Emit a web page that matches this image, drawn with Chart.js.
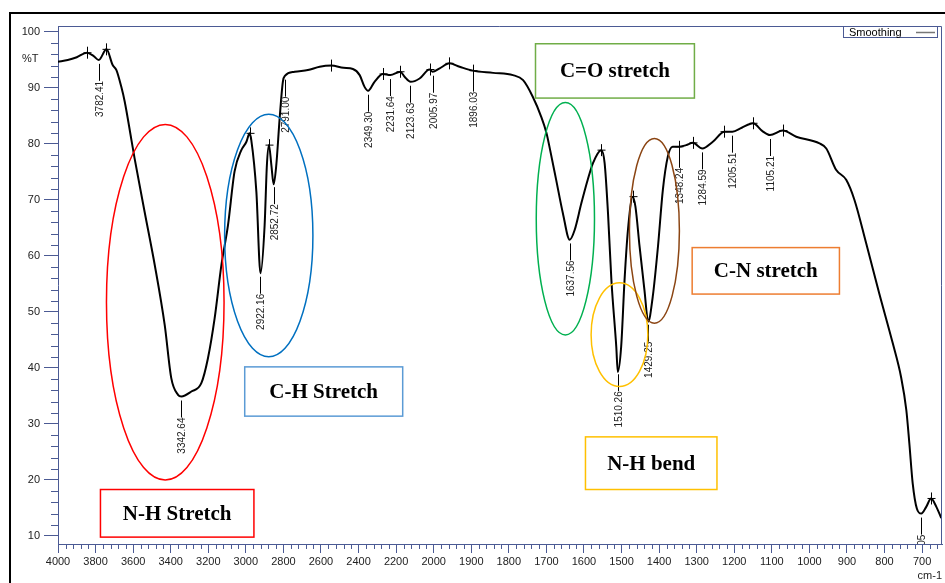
<!DOCTYPE html>
<html>
<head>
<meta charset="utf-8">
<script src="https://cdn.jsdelivr.net/npm/chart.js@4.4.1/dist/chart.umd.min.js"></script>
<style>
  html, body { margin: 0; padding: 0; background: #fff; }
  #wrap { width: 945px; height: 583px; }
</style>
</head>
<body>
<div id="wrap"><canvas id="ftir" width="945" height="583"></canvas></div>
<script>
// Spettro FTIR: numeri d'onda (cm-1) e trasmittanza (%T)
const WAVENUMBER = [4000,3948,3900,3846,3810,3783,3742,3709,3689,3663,
    3645,3609,3592,3539,3485,3432,3397,3361,3343,3290,
    3237,3202,3166,3130,3095,3060,3024,2997,2980,2971,
    2944,2922,2900,2888,2877,2864,2852,2838,2820,2803,
    2791,2740,2670,2607,2545,2480,2430,2394,2368,2349,
    2315,2270,2231,2178,2155,2123,2075,2022,2006,1984,
    1958,1931,1896,1842,1789,1762,1736,1714,1700,1690,
    1674,1656,1638,1625,1607,1590,1576,1554,1545,1536,
    1527,1514,1510,1501,1492,1483,1470,1463,1452,1439,
    1429,1417,1403,1390,1377,1364,1348,1328,1310,1285,
    1257,1226,1205,1180,1150,1125,1105,1071,1035,973,
    955,929,902,880,849,814,778,756,742,734,
    725,714,702,689,676,662,649];

const TRANSMITTANCE = [94.7,95.0,95.5,96.3,95.7,95.0,96.9,94.1,93.2,90.2,
    87.6,80.7,77.4,67.9,58.4,47.7,38.2,35.2,34.9,35.8,
    37.3,41.7,48.9,58.4,65.5,75.1,78.9,80.4,81.9,80.7,
    71.5,56.9,65.5,76.2,79.8,76.2,72.8,76.2,84.6,91.1,
    92.2,92.9,93.2,93.8,94.0,93.6,93.4,92.3,90.2,89.5,
    91.1,92.5,92.3,92.9,92.0,91.1,91.7,93.3,92.9,93.5,
    94.4,93.8,93.1,92.7,92.3,91.4,88.4,84.9,82.0,78.9,
    73.6,67.6,62.9,64.6,69.4,73.6,76.6,78.9,76.6,67.6,
    55.7,43.8,39.3,43.8,55.7,64.6,70.6,68.8,61.7,53.9,
    48.3,52.7,61.7,71.8,77.7,79.5,79.5,79.8,80.2,79.2,
    80.4,82.2,82.2,82.9,83.7,82.3,81.6,82.4,81.3,80.1,
    79.2,75.4,73.6,70.0,62.3,53.3,44.4,38.4,32.5,26.6,
    19.4,14.9,14.0,15.2,16.7,15.2,13.2];

// Picchi etichettati (minimi) e massimi marcati con una crocetta
const PEAK_LABELS = [3782.41, 3342.64, 2922.16, 2852.72, 2791.00, 2349.30, 2231.64, 2123.63,
    2005.97, 1896.03, 1637.56, 1510.26, 1429.25, 1348.24, 1284.59, 1205.51, 1105.21, 702.05];
const PEAK_MARKS = [3846, 3742, 2980, 2877, 2545, 2270, 2178, 2022, 1958, 1896,
    1554, 1470, 1348, 1310, 1226, 1150, 1071, 676];

// Tick degli assi
const X_TICKS = [4000,3800,3600,3400,3200,3000,2800,2600,2400,2200,2000,
    1900,1800,1700,1600,1500,1400,1300,1200,1100,1000,900,800,700];
const Y_TICKS = [10,20,30,40,50,60,70,80,90,100];

// Annotazioni (ellissi e riquadri) in coordinate dati
const ELLIPSES = [
    { x1: 3742, x2: 3116, y1: 83.5, y2: 20.0, color: '#ff0000' },
    { x1: 3113, x2: 2643, y1: 85.3, y2: 42.0, color: '#0070c0' },
    { x1: 1727, x2: 1572, y1: 87.4, y2: 45.9, color: '#00b050' },
    { x1: 1581, x2: 1430, y1: 55.2, y2: 36.7, color: '#ffc000' },
    { x1: 1479, x2: 1346, y1: 81.0, y2: 48.0, color: '#8b4513' }
];
const BOXES = [
    { text: 'N-H Stretch', x1: 3774, x2: 2957, y1: 18.3, y2: 9.8, color: '#ff0000' },
    { text: 'C-H Stretch', x1: 3006, x2: 2165, y1: 40.2, y2: 31.4, color: '#5b9bd5' },
    { text: 'C=O stretch', x1: 1729, x2: 1306, y1: 97.9, y2: 88.2, color: '#70ad47' },
    { text: 'C-N stretch', x1: 1312, x2: 920, y1: 61.5, y2: 53.2, color: '#ed7d31' },
    { text: 'N-H bend', x1: 1596, x2: 1246, y1: 27.7, y2: 18.3, color: '#ffc000' }
];

const AXIS = '#4b5a94';
const SANS = "'Liberation Sans', Arial, sans-serif";
const SERIF = "'Liberation Serif', 'Times New Roman', serif";

// L'asse cambia scala a 2000 cm-1 (a destra vale il doppio)
const toU = wn => wn >= 2000 ? 4000 - wn : 2000 + (2000 - wn) * 2;
const fromU = u => u <= 2000 ? 4000 - u : 2000 - (u - 2000) / 2;

// Interpolazione lineare sullo spettro
const valueAt = (wn) => {
    for (let i = 0; i < WAVENUMBER.length - 1; i++) {
        const a = WAVENUMBER[i], b = WAVENUMBER[i + 1];
        if (wn <= a && wn >= b) {
            const t = (a - wn) / (a - b);
            return TRANSMITTANCE[i] + t * (TRANSMITTANCE[i + 1] - TRANSMITTANCE[i]);
        }
    }
    return TRANSMITTANCE[TRANSMITTANCE.length - 1];
};

const decor = {
    id: 'decor',
    beforeDraw(chart) {
        const ctx = chart.ctx;
        ctx.save();
        ctx.fillStyle = '#000';
        ctx.fillRect(9, 12, 936, 2);
        ctx.fillRect(9, 12, 2, 571);
        ctx.restore();
    },
    afterDatasetsDraw(chart) {
        const { ctx, chartArea: a, scales: { x, y } } = chart;
        const px = wn => x.getPixelForValue(toU(wn));
        const py = v => y.getPixelForValue(v);
        ctx.save();

        // cornice superiore e destra
        ctx.strokeStyle = AXIS;
        ctx.lineWidth = 1;
        ctx.beginPath();
        ctx.moveTo(a.left, a.top + 0.5);
        ctx.lineTo(a.right - 0.5, a.top + 0.5);
        ctx.lineTo(a.right - 0.5, a.bottom);
        ctx.stroke();

        // tick minori
        ctx.beginPath();
        for (let u = 40; u < x.max; u += 40) {
            if (u % 200 === 0) continue;
            const xx = Math.round(x.getPixelForValue(u)) + 0.5;
            ctx.moveTo(xx, a.bottom);
            ctx.lineTo(xx, a.bottom + 5);
        }
        for (let v = 12; v < 100; v += 2) {
            if (v % 10 === 0) continue;
            const yy = Math.round(py(v)) + 0.5;
            ctx.moveTo(a.left - 7, yy);
            ctx.lineTo(a.left, yy);
        }
        ctx.stroke();

        // crocette sui massimi
        ctx.strokeStyle = '#000';
        ctx.beginPath();
        PEAK_MARKS.forEach(wn => {
            const xx = Math.round(px(wn)) + 0.5, yy = py(valueAt(wn));
            ctx.moveTo(xx, yy - 6); ctx.lineTo(xx, yy + 6);
            ctx.moveTo(xx - 4, yy); ctx.lineTo(xx + 4, yy);
        });
        ctx.stroke();

        // etichette dei picchi (verticali)
        ctx.save();
        ctx.beginPath();
        ctx.rect(a.left, a.top, a.right - a.left, a.bottom - a.top);
        ctx.clip();
        ctx.font = '10px ' + SANS;
        ctx.fillStyle = '#222';
        ctx.textAlign = 'right';
        ctx.textBaseline = 'middle';
        PEAK_LABELS.forEach(wn => {
            const xx = Math.round(px(wn)) + 0.5, yy = py(valueAt(wn));
            ctx.beginPath();
            ctx.moveTo(xx, yy + 4);
            ctx.lineTo(xx, yy + 21);
            ctx.stroke();
            ctx.save();
            ctx.translate(xx + 0.5, yy + 21);
            ctx.rotate(-Math.PI / 2);
            ctx.fillText(wn.toFixed(2), 0, 0);
            ctx.restore();
        });
        ctx.restore();

        // ellissi
        ctx.lineWidth = 1.5;
        ELLIPSES.forEach(e => {
            const l = px(e.x1), r = px(e.x2), t = py(e.y1), b = py(e.y2);
            ctx.strokeStyle = e.color;
            ctx.beginPath();
            ctx.ellipse((l + r) / 2, (t + b) / 2, (r - l) / 2, (b - t) / 2, 0, 0, Math.PI * 2);
            ctx.stroke();
        });

        // riquadri con testo
        ctx.font = 'bold 21px ' + SERIF;
        ctx.textAlign = 'center';
        ctx.textBaseline = 'middle';
        BOXES.forEach(bx => {
            const l = px(bx.x1), r = px(bx.x2), t = py(bx.y1), b = py(bx.y2);
            ctx.strokeStyle = bx.color;
            ctx.strokeRect(l, t, r - l, b - t);
            ctx.fillStyle = '#000';
            ctx.fillText(bx.text, (l + r) / 2, (t + b) / 2 + 1);
        });

        // legenda "Smoothing"
        ctx.lineWidth = 1;
        ctx.strokeStyle = AXIS;
        ctx.strokeRect(843.5, a.top + 0.5, 94, 11);
        ctx.font = '11px ' + SANS;
        ctx.textAlign = 'left';
        ctx.fillStyle = '#000';
        ctx.fillText('Smoothing', 849, a.top + 6.5);
        ctx.strokeStyle = '#777';
        ctx.lineWidth = 1.5;
        ctx.beginPath();
        ctx.moveTo(916, a.top + 6.5);
        ctx.lineTo(935, a.top + 6.5);
        ctx.stroke();

        // titoli assi
        ctx.fillStyle = '#222';
        ctx.fillText('%T', 22, py(95.2));
        ctx.textAlign = 'right';
        ctx.fillText('cm-1', 942, 576);
        ctx.restore();
    }
};

new Chart(document.getElementById('ftir'), {
    type: 'line',
    data: {
        datasets: [{
            data: WAVENUMBER.map((wn, i) => ({ x: toU(wn), y: TRANSMITTANCE[i] })),
            borderColor: '#000',
            borderWidth: 2,
            pointRadius: 0,
            cubicInterpolationMode: 'monotone',
            fill: false
        }]
    },
    options: {
        responsive: false,
        animation: false,
        layout: { padding: { top: 26, right: 3, left: 0, bottom: 0 } },
        plugins: { legend: { display: false }, tooltip: { enabled: false } },
        scales: {
            x: {
                type: 'linear',
                min: 0,
                max: toU(647),
                afterBuildTicks: (scale) => { scale.ticks = X_TICKS.map(v => ({ value: toU(v) })); },
                afterFit: (scale) => { scale.height = 39; },
                border: { color: AXIS, width: 1 },
                grid: { drawOnChartArea: false, color: AXIS, tickLength: 9, lineWidth: 1 },
                ticks: {
                    autoSkip: false,
                    maxRotation: 0,
                    padding: 2,
                    color: '#222',
                    font: { family: SANS, size: 11 },
                    callback: (v) => String(Math.round(fromU(v)))
                }
            },
            y: {
                min: 8.57,
                max: 101.07,
                afterBuildTicks: (scale) => { scale.ticks = Y_TICKS.map(v => ({ value: v })); },
                afterFit: (scale) => { scale.width = 58; },
                border: { color: AXIS, width: 1 },
                grid: { drawOnChartArea: false, color: AXIS, tickLength: 14, lineWidth: 1 },
                ticks: {
                    padding: 4,
                    color: '#222',
                    font: { family: SANS, size: 11 }
                }
            }
        }
    },
    plugins: [decor]
});
</script>
</body>
</html>
